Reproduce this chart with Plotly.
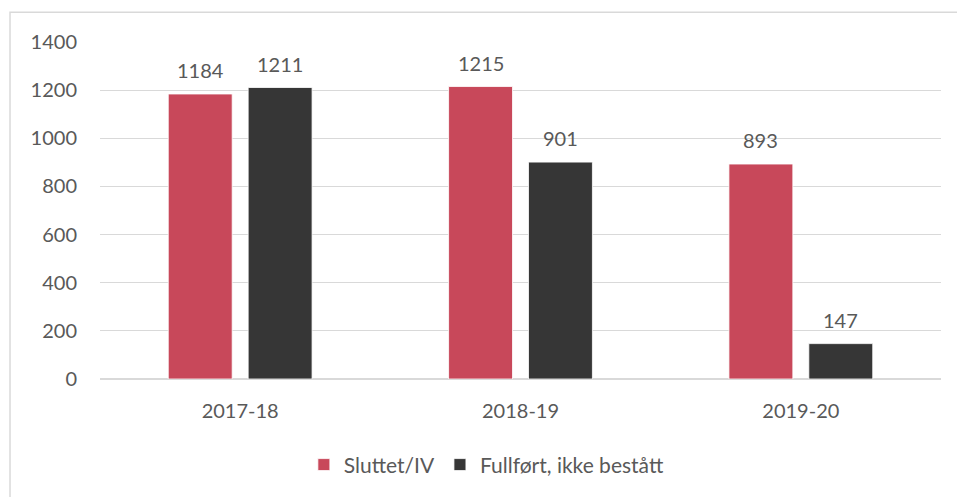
import plotly.graph_objects as go

categories = ["2017-18", "2018-19", "2019-20"]
sluttet = [1184, 1215, 893]
fullfort = [1211, 901, 147]
series_names = ["Sluttet/IV", "Fullført, ikke bestått"]
y_ticks = [0, 200, 400, 600, 800, 1000, 1200, 1400]

RED = "#C8485A"
DARK = "#363636"
TXT = "#595959"
FONT = "Lato"

fig = go.Figure()
annotations = []
for (name, vals, col), shift in zip(
        [(series_names[0], sluttet, RED), (series_names[1], fullfort, DARK)], [-40, 40]):
    fig.add_trace(go.Bar(
        x=categories, y=vals, name=name,
        marker=dict(color=col, line=dict(color="white", width=0.8)),
    ))
    for c, v in zip(categories, vals):
        annotations.append(dict(x=c, y=v, text=str(v), showarrow=False, xshift=shift,
                                yshift=24, yanchor="middle",
                                font=dict(family=FONT, size=20, color=TXT)))

fig.update_layout(
    width=957, height=497,
    margin=dict(l=100, r=16, t=42, b=115),
    paper_bgcolor="white", plot_bgcolor="white",
    barmode="group", bargap=0.43, bargroupgap=0.2,
    font=dict(family=FONT, size=20, color=TXT),
    showlegend=True,
    annotations=annotations,
    legend=dict(orientation="h", x=0.46, xanchor="center", y=-0.255, yanchor="middle",
                font=dict(family=FONT, size=21, color=TXT), itemwidth=30,
                traceorder="normal"),
    xaxis=dict(showgrid=False, showline=False, ticks="", ticklabelstandoff=18,
               tickfont=dict(family=FONT, size=20, color=TXT)),
    yaxis=dict(range=[0, 1400], tickvals=y_ticks, showgrid=True, gridcolor="#D9D9D9",
               gridwidth=1, zeroline=True, zerolinecolor="#D9D9D9", zerolinewidth=1.5,
               showline=False, ticks="", ticklabelstandoff=22,
               tickfont=dict(family=FONT, size=20, color=TXT)),
    shapes=[dict(type="path", xref="paper", yref="paper",
                 path="M -0.107,-0.6 L -0.107,1.088 L 1.3,1.088",
                 line=dict(color="#D9D9D9", width=1.5), layer="below")],
)

fig.write_html(
    "out.html",
    config={"displayModeBar": False},
    post_script=("document.body.style.margin='0';"
                 "document.body.style.overflow='hidden';"
                 "document.documentElement.style.overflow='hidden';"),
)
